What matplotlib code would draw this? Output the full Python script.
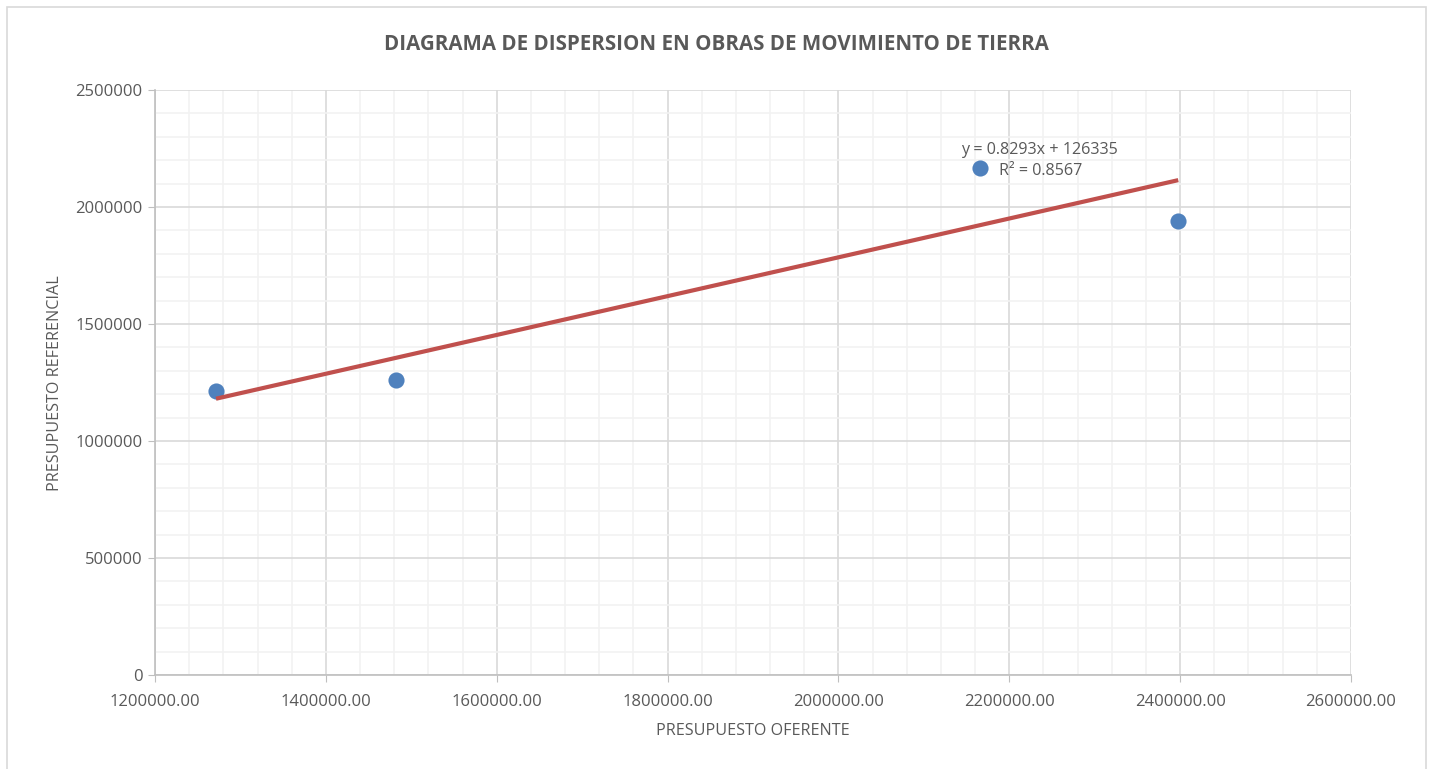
import numpy as np
import matplotlib.pyplot as plt
from matplotlib.ticker import MultipleLocator, FuncFormatter
from matplotlib.patches import Rectangle

plt.rcParams['font.family'] = ['Open Sans', 'DejaVu Sans']

# data
presupuesto_oferente = [1271400, 1482100, 2165900, 2397800]
presupuesto_referencial = [1213700, 1260700, 2166700, 1940200]
eq_text = 'y = 0.8293x + 126335'
r2_text = 'R² = 0.8567'

x = np.array(presupuesto_oferente)
y = np.array(presupuesto_referencial)
slope, intercept = 0.8293, 126335

W, H = 1432, 769
fig = plt.figure(figsize=(W / 100, H / 100), dpi=100)
ax = fig.add_axes([155 / W, 1 - 675 / H, (1351 - 155) / W, (675 - 90) / H])

txt = '#595959'

# outer chart frame
fig.patches.append(Rectangle((7 / W, -0.05), (1426 - 7) / W, 1.05 - 7 / H,
                             transform=fig.transFigure, fill=False,
                             edgecolor='#D9D9D9', linewidth=1.2))

ax.set_xlim(1200000, 2600000)
ax.set_ylim(0, 2500000)
ax.xaxis.set_major_locator(MultipleLocator(200000))
ax.xaxis.set_minor_locator(MultipleLocator(40000))
ax.yaxis.set_major_locator(MultipleLocator(500000))
ax.yaxis.set_minor_locator(MultipleLocator(100000))
ax.xaxis.set_major_formatter(FuncFormatter(lambda v, p: f'{v:.2f}'))
ax.yaxis.set_major_formatter(FuncFormatter(lambda v, p: f'{v:.0f}'))

ax.grid(which='minor', color='#F2F2F2', linewidth=1.2, zorder=0)
ax.grid(which='major', color='#D9D9D9', linewidth=1.2, zorder=0)
ax.set_axisbelow(True)

for s in ['top', 'right']:
    ax.spines[s].set_visible(False)
for s in ['left', 'bottom']:
    ax.spines[s].set_color('#BFBFBF')
    ax.spines[s].set_linewidth(1.2)

ax.tick_params(which='major', direction='out', length=5, color='#BFBFBF',
               labelcolor=txt, labelsize=12)
ax.tick_params(axis='x', which='major', pad=9)
ax.tick_params(axis='y', which='major', pad=4)
ax.tick_params(which='minor', length=0)

ax.scatter(x, y, s=135, color='#4F81BD', zorder=3, linewidths=0)
xl = np.array([x.min(), x.max()])
ax.plot(xl, slope * xl + intercept, color='#C0504D', linewidth=3, zorder=4,
        solid_capstyle='butt')

ax.text(2235000, 2245000, eq_text, ha='center', va='center', fontsize=11.6, color=txt)
ax.text(2237000, 2155000, r2_text, ha='center', va='center', fontsize=11.6, color=txt)

fig.text(716 / W, 1 - 44 / H, 'DIAGRAMA DE DISPERSION EN OBRAS DE MOVIMIENTO DE TIERRA',
         ha='center', va='center', fontsize=14.8, fontweight='bold', color=txt)
fig.text(753 / W, 1 - 731 / H, 'PRESUPUESTO OFERENTE', ha='center', va='center',
         fontsize=11.6, color=txt)
fig.text(55 / W, 1 - 383 / H, 'PRESUPUESTO REFERENCIAL', ha='center', va='center',
         rotation=90, fontsize=11.6, color=txt)

fig.savefig('out.png', dpi=100)
